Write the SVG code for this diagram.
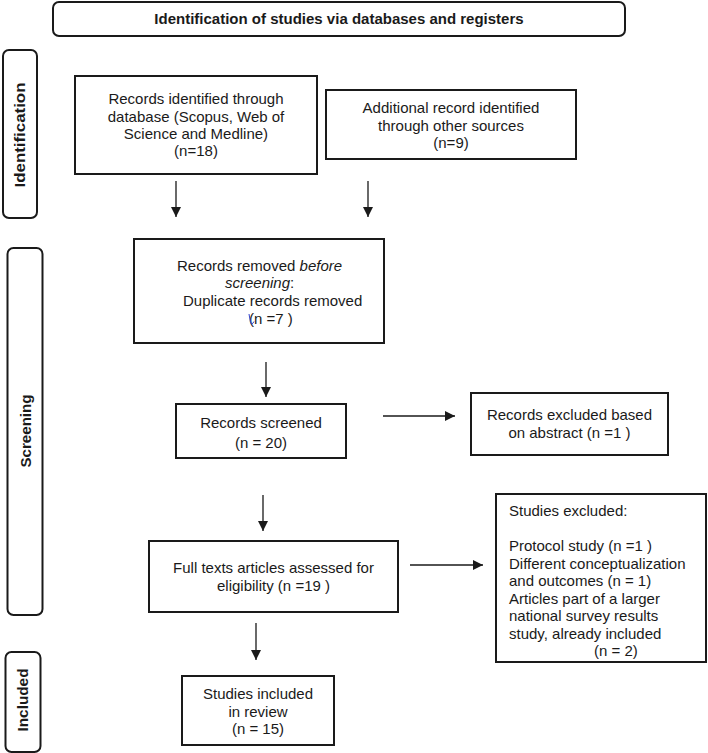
<svg xmlns="http://www.w3.org/2000/svg" width="708" height="753" viewBox="0 0 708 753">
<style>
  .box { fill: #ffffff; stroke: #1a1a1a; stroke-width: 2; }
  .side { fill: #ffffff; stroke: #1a1a1a; stroke-width: 2; }
  .t { font-family: "Liberation Sans", Arial, sans-serif; font-size: 15px; fill: #1a1a1a; }
  .c { text-anchor: middle; }
  .title { font-family: "Liberation Sans", Arial, sans-serif; font-size: 15px; font-weight: bold; fill: #1a1a1a; text-anchor: middle; }
  .lbl { font-family: "Liberation Sans", Arial, sans-serif; font-size: 14px; font-weight: bold; fill: #1a1a1a; text-anchor: middle; }
  .conn { stroke: #1a1a1a; stroke-width: 1.3; fill: none; marker-end: url(#ah); }
</style>
<defs>
  <marker id="ah" markerUnits="userSpaceOnUse" markerWidth="10" markerHeight="10" refX="10" refY="5" orient="auto">
    <path d="M0,0 L10,5 L0,10 z" fill="#1a1a1a"/>
  </marker>
</defs>
<rect width="708" height="753" fill="#ffffff"/>

<g id="title">
  <rect class="side" x="53" y="2" width="572" height="34" rx="6"/>
  <text class="title" x="339" y="23.5">Identification of studies via databases and registers</text>
</g>

<g id="stage-identification">
  <rect class="side" x="3" y="50" width="34" height="168" rx="6"/>
  <text class="lbl" transform="translate(25,135) rotate(-90)" textLength="105" lengthAdjust="spacingAndGlyphs">Identification</text>
</g>
<g id="stage-screening">
  <rect class="side" x="7.5" y="248" width="35" height="367" rx="6"/>
  <text class="lbl" transform="translate(31,431) rotate(-90)" textLength="73" lengthAdjust="spacingAndGlyphs">Screening</text>
</g>
<g id="stage-included">
  <rect class="side" x="5.5" y="652" width="35" height="100" rx="6"/>
  <text class="lbl" transform="translate(28,700) rotate(-90)" textLength="63" lengthAdjust="spacingAndGlyphs">Included</text>
</g>

<g id="db-records">
  <rect class="box" x="75" y="76" width="242" height="98"/>
  <text class="t c" x="196" y="104">Records identified through</text>
  <text class="t c" x="196" y="121.5">database (Scopus, Web of</text>
  <text class="t c" x="196" y="139">Science and Medline)</text>
  <text class="t c" x="196" y="156">(n=18)</text>
</g>

<g id="other-records">
  <rect class="box" x="326" y="90" width="250" height="69"/>
  <text class="t c" x="451" y="113">Additional record identified</text>
  <text class="t c" x="451" y="131">through other sources</text>
  <text class="t c" x="451" y="148">(n=9)</text>
</g>

<g id="removed">
  <rect class="box" x="134" y="239" width="250" height="104"/>
  <text class="t" x="177" y="271">Records removed <tspan font-style="italic">before</tspan></text>
  <text class="t" x="225" y="288"><tspan font-style="italic">screening</tspan>:</text>
  <text class="t" x="183" y="306">Duplicate records removed</text>
  <text class="t" x="249" y="324">(n =7 )</text>
  <path d="M249,314 L250.5,322.5 Q251.5,326 254,321.5" stroke="#3344cc" stroke-width="1" fill="none"/>
</g>

<g id="screened">
  <rect class="box" x="176" y="404" width="170" height="54"/>
  <text class="t c" x="261" y="428">Records screened</text>
  <text class="t c" x="261" y="448">(n = 20)</text>
</g>

<g id="excluded-abstract">
  <rect class="box" x="471" y="393" width="197" height="62"/>
  <text class="t c" x="569.5" y="420">Records excluded based</text>
  <text class="t c" x="569.5" y="438">on abstract (n =1 )</text>
</g>

<g id="fulltext">
  <rect class="box" x="149" y="541" width="249" height="71"/>
  <text class="t c" x="273.5" y="573">Full texts articles assessed for</text>
  <text class="t c" x="273.5" y="591">eligibility (n =19 )</text>
</g>

<g id="studies-excluded">
  <rect class="box" x="496" y="494" width="210" height="168"/>
  <text class="t" x="509" y="516">Studies excluded:</text>
  <text class="t" x="509" y="551">Protocol study (n =1 )</text>
  <text class="t" x="509" y="568.5">Different conceptualization</text>
  <text class="t" x="509" y="586">and outcomes (n = 1)</text>
  <text class="t" x="509" y="603.5">Articles part of a larger</text>
  <text class="t" x="509" y="621">national survey results</text>
  <text class="t" x="509" y="638.5">study, already included</text>
  <text class="t" x="594" y="656">(n = 2)</text>
</g>

<g id="included">
  <rect class="box" x="182" y="676" width="152" height="69"/>
  <text class="t c" x="258" y="699">Studies included</text>
  <text class="t c" x="258" y="716.5">in review</text>
  <text class="t c" x="258" y="734">(n = 15)</text>
</g>

<g id="connectors">
  <line class="conn" x1="176" y1="181" x2="176" y2="217"/>
  <line class="conn" x1="368" y1="181" x2="368" y2="217"/>
  <line class="conn" x1="266" y1="362" x2="266" y2="397"/>
  <line class="conn" x1="383" y1="416" x2="455" y2="416"/>
  <line class="conn" x1="263" y1="495" x2="263" y2="531"/>
  <line class="conn" x1="410" y1="565" x2="483" y2="565"/>
  <line class="conn" x1="256" y1="623" x2="256" y2="660"/>
</g>
</svg>
